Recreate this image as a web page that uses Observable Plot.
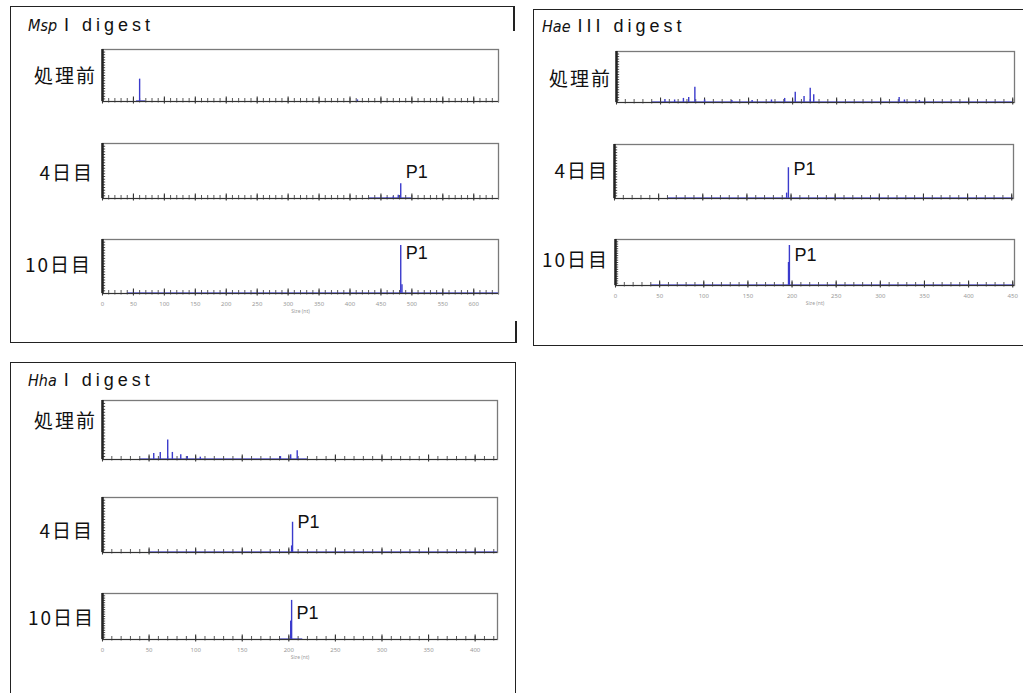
<!DOCTYPE html>
<html><head><meta charset="utf-8">
<script src="https://cdn.jsdelivr.net/npm/d3@7"></script>
<script src="https://cdn.jsdelivr.net/npm/@observablehq/plot@0.6"></script>
<style>
body{margin:0;background:#fff;width:1023px;height:693px;overflow:hidden;position:relative;font-family:"Liberation Sans",Arial,sans-serif;}
.box{position:absolute;border:1.5px solid #222;box-sizing:border-box}
.seg{position:absolute;background:#222;width:1.5px}
.title{position:absolute;font-size:18px;line-height:20px;letter-spacing:4px;color:#111;white-space:nowrap}
.title i{letter-spacing:0;margin-right:7px;font-family:"DejaVu Sans";font-stretch:condensed;font-size:16px}
.lab{position:absolute;font-family:"Noto Sans CJK JP";font-size:19px;line-height:24px;letter-spacing:2px;text-align:right;width:100px;color:#111}
.plot{position:absolute}
</style></head>
<body>
<script>
// ---------- data ----------
const enzymeNames = ["Msp", "Hae", "Hha"];
const enzymeSuffix = ["I", "III", "I"];
const samples = ["処理前", "4日目", "10日目"];
const sizeMax = [640, 452, 424];
const majorTicks = [
  [0,50,100,150,200,250,300,350,400,450,500,550,600],
  [0,50,100,150,200,250,300,350,400,450],
  [0,50,100,150,200,250,300,350,400]
];
const axisTitle = "Size (nt)";
const peakLabel = "P1";
// peaks: [size (nt), relative height]
const mspPre   = [[60,0.43],[412,0.03]];
const mspDay4  = [[482,0.27],[478,0.06],[470,0.03],[460,0.02]];
const mspDay10 = [[482,0.89],[484,0.16]];
const haePre   = [[55,0.06],[66,0.05],[76,0.08],[82,0.1],[89,0.3],[100,0.05],[131,0.04],[154,0.04],[176,0.05],[191,0.08],[203,0.2],[213,0.12],[220,0.28],[224,0.15],[321,0.1],[327,0.05],[344,0.04]];
const haeDay4  = [[197,0.57],[195,0.1]];
const haeDay10 = [[197,0.87],[196,0.5]];
const hhaPre   = [[55,0.1],[62,0.12],[70,0.33],[75,0.12],[84,0.08],[91,0.05],[105,0.04],[191,0.05],[202,0.08],[209,0.15]];
const hhaDay4  = [[204,0.55],[203,0.12]];
const hhaDay10 = [[203,0.85],[202,0.4]];
const peaks = [[mspPre, mspDay4, mspDay10],[haePre, haeDay4, haeDay10],[hhaPre, hhaDay4, hhaDay10]];
// blue baseline range of each trace [start, end] in nt
const baselines = [[[55,70],[430,500],[40,640]],[[40,450],[60,452],[40,452]],[[40,220],[50,424],[190,215]]];
const showP1 = [[false,true,true],[false,true,true],[false,true,true]];

// ---------- layout ----------
const boxes = [
  {x:10,y:6,w:505,h:337},
  {x:533,y:9,w:500,h:337},
  {x:10,y:362,w:506,h:400}
];
const titlePos = [{x:28,y:15},{x:542,y:16},{x:28,y:370}];
const frames = [
  [{x:102,y:49,w:396,h:52},{x:102,y:143,w:396,h:55},{x:102,y:239,w:396,h:54}],
  [{x:616,y:51,w:398,h:51},{x:614,y:144,w:399,h:54},{x:615,y:239,w:399,h:46}],
  [{x:102,y:400,w:395,h:59},{x:102,y:497,w:395,h:55},{x:102,y:593,w:395,h:46}]
];
const labelPos = [
  [{r:97,cy:75},{r:94,cy:172},{r:92,cy:264}],
  [{r:612,cy:78},{r:609,cy:170},{r:609,cy:259}],
  [{r:97,cy:420},{r:94,cy:530},{r:95,cy:617}]
];
const p1Y = [[0,0.47,0.74],[0,0.54,0.65],[0,0.55,0.57]];
const blue = "#3b3bcc";

function add(el){document.body.appendChild(el);return el;}

boxes.forEach((b,i)=>{
  const d=document.createElement("div");d.className="box";
  Object.assign(d.style,{left:b.x+"px",top:b.y+"px",width:b.w+"px",height:b.h+"px"});
  if(i===0) d.style.borderRight="none";
  add(d);
});
// partial right edge of first box
[{x:513,y:6,h:25},{x:515,y:321,h:22}].forEach(s=>{
  const d=document.createElement("div");d.className="seg";
  Object.assign(d.style,{left:s.x+"px",top:s.y+"px",height:s.h+"px"});add(d);
});

enzymeNames.forEach((n,i)=>{
  const d=document.createElement("div");d.className="title";
  d.style.left=titlePos[i].x+"px";d.style.top=titlePos[i].y+"px";
  const it=document.createElement("i");it.textContent=n;d.appendChild(it);
  d.appendChild(document.createTextNode(enzymeSuffix[i]+" digest"));
  add(d);
});

for(let e=0;e<3;e++){
  for(let s=0;s<3;s++){
    const fr=frames[e][s], max=sizeMax[e], bottom=(s===2);
    const ml=6, mr=6, mt=4, mb=bottom?30:6;
    const minor=d3.range(0,max+0.01,10);
    const base=baselines[e][s];
    const pk=peaks[e][s].map(([size,h])=>({size,h}));
    const top=pk.reduce((a,b)=>b.h>a.h?b:a,pk[0]);
    const u=1/fr.h; // one pixel in y units
    const marks=[
      Plot.ruleY([{a:base[0],b:base[1]}],{x1:"a",x2:"b",y:0.012,stroke:blue,strokeWidth:1.3,strokeOpacity:0.85}),
      Plot.ruleX(minor,{x:d=>d,y1:-1.5*u,y2:3*u,stroke:"#444",strokeWidth:0.9}),
      Plot.ruleX(majorTicks[e],{x:d=>d,y1:-2.5*u,y2:4.5*u,stroke:"#333",strokeWidth:1.1}),
      Plot.ruleY(d3.range(0,1,0.05),{y:d=>d,x1:0,x2:max*0.008,stroke:"#333",strokeWidth:0.9}),
      Plot.ruleX(pk,{x:"size",y1:0,y2:"h",stroke:blue,strokeWidth:1.4}),
      Plot.frame({stroke:"#7a7a7a",strokeWidth:1.3}),
      Plot.ruleX([0],{stroke:"#222",strokeWidth:2.5}),
      Plot.ruleY([0],{stroke:"#333",strokeWidth:1})
    ];
    if(showP1[e][s]){
      marks.push(Plot.text([top],{x:"size",y:()=>p1Y[e][s],text:()=>peakLabel,textAnchor:"start",dx:5,fontSize:18,fill:"#111",fontFamily:"Liberation Sans, Arial, sans-serif"}));
    }
    if(bottom){
      marks.push(Plot.axisX({ticks:majorTicks[e],tickSize:0,tickPadding:8,fontSize:6,fill:"#9a9a9a",label:null}));
      marks.push(Plot.text([axisTitle],{frameAnchor:"bottom",dy:19,fontSize:5,fill:"#9a9a9a"}));
    }
    const svg=Plot.plot({
      width:fr.w+ml+mr,height:fr.h+mt+mb,
      marginLeft:ml,marginRight:mr,marginTop:mt,marginBottom:mb,
      x:{domain:[0,max],axis:null},
      y:{domain:[0,1],axis:null},
      style:{background:"transparent",overflow:"visible"},
      marks
    });
    const w=document.createElement("div");w.className="plot";
    w.style.left=(fr.x-ml)+"px";w.style.top=(fr.y-mt)+"px";
    w.appendChild(svg);add(w);

    const l=document.createElement("div");l.className="lab";
    l.textContent=samples[s];
    l.style.left=(labelPos[e][s].r-100)+"px";
    l.style.top=(labelPos[e][s].cy-12)+"px";
    add(l);
  }
}
</script>
</body></html>
